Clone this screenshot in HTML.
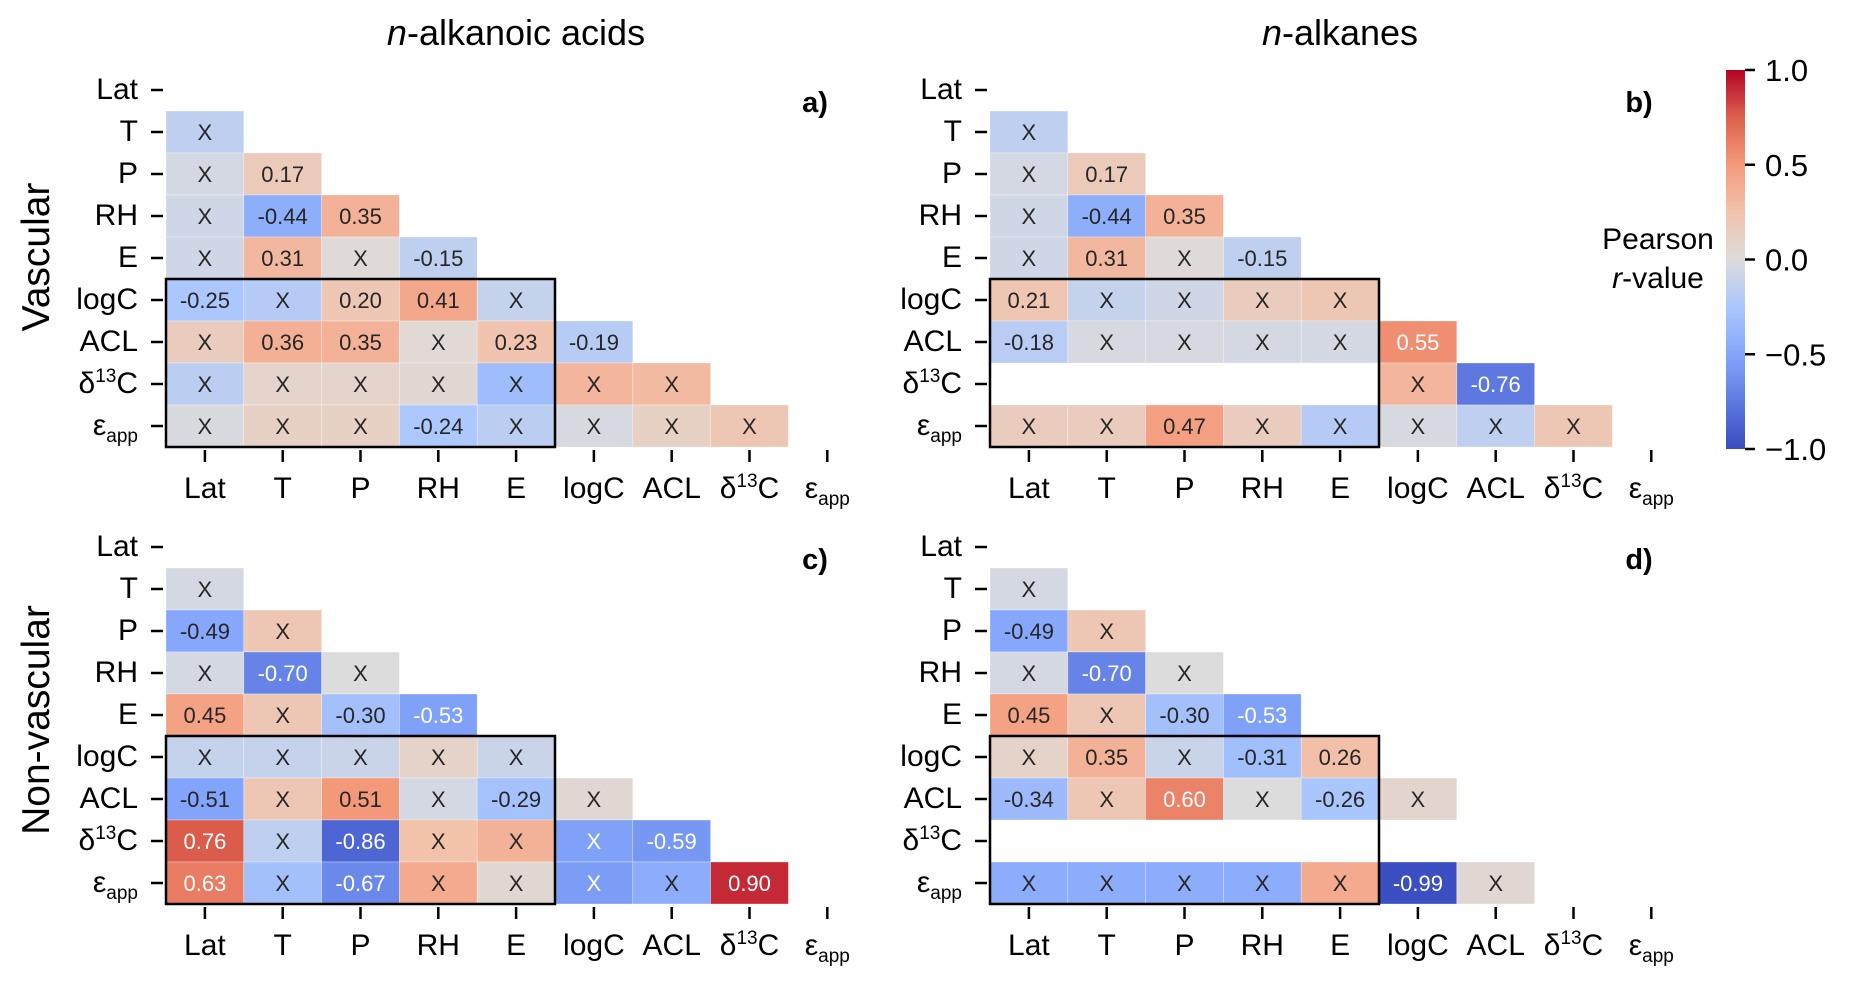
<!DOCTYPE html>
<html><head><meta charset="utf-8"><style>
html,body{margin:0;padding:0;background:#fff;}
svg{display:block;font-family:"Liberation Sans",sans-serif;}
</style></head><body>
<svg id="chart" width="1851" height="984" viewBox="0 0 1851 984" xmlns="http://www.w3.org/2000/svg">
<defs>
<linearGradient id="cbgrad" x1="0" y1="1" x2="0" y2="0">
<stop offset="0" stop-color="rgb(58,76,193)"/><stop offset="0.125" stop-color="rgb(94,123,226)"/>
<stop offset="0.25" stop-color="rgb(132,166,251)"/><stop offset="0.375" stop-color="rgb(171,199,253)"/>
<stop offset="0.5" stop-color="rgb(221,220,220)"/><stop offset="0.625" stop-color="rgb(242,194,170)"/>
<stop offset="0.75" stop-color="rgb(244,154,123)"/><stop offset="0.875" stop-color="rgb(222,96,77)"/>
<stop offset="1" stop-color="rgb(180,4,38)"/>
</linearGradient>
</defs>
<g id="root"></g>
</svg>
<script>
const variables = ["Lat","T","P","RH","E","logC","ACL","d13C","eapp"];
const cbTicks = [1.0, 0.5, 0.0, -0.5, -1.0];
const cbTickLabels = ["1.0","0.5","0.0","\u22120.5","\u22121.0"];
// rows T..eapp ; lower triangle values (null = blank)
const rA = [[-0.15],[-0.05,0.17],[-0.07,-0.44,0.35],[-0.07,0.31,0.02,-0.15],[-0.25,-0.2,0.20,0.41,-0.12],[0.15,0.36,0.35,0.03,0.23,-0.19],[-0.17,0.08,0.08,0.05,-0.33,0.33,0.3],[-0.02,0.12,0.12,-0.24,-0.17,-0.03,0.12,0.2]];
const sA = [[0],[0,1],[0,1,1],[0,1,0,1],[1,0,1,1,0],[0,1,1,0,1,1],[0,0,0,0,0,0,0],[0,0,0,1,0,0,0,0]];
const rB = [[-0.15],[-0.05,0.17],[-0.07,-0.44,0.35],[-0.07,0.31,0.02,-0.15],[0.21,-0.12,-0.07,0.15,0.2],[-0.18,-0.03,-0.03,-0.05,-0.05,0.55],[null,null,null,null,null,0.33,-0.76],[0.15,0.15,0.47,0.15,-0.2,-0.03,-0.15,0.2]];
const sB = [[0],[0,1],[0,1,1],[0,1,0,1],[1,0,0,0,0],[1,0,0,0,0,1],[0,0,0,0,0,0,1],[0,0,1,0,0,0,0,0]];
const rC = [[-0.05],[-0.49,0.2],[-0.05,-0.70,0.0],[0.45,0.2,-0.30,-0.53],[-0.12,-0.12,-0.1,0.1,-0.1],[-0.51,0.2,0.51,-0.05,-0.29,0.05],[0.76,-0.15,-0.86,0.25,0.35,-0.53,-0.59],[0.63,-0.3,-0.67,0.4,0.05,-0.55,-0.45,0.90]];
const sC = [[0],[1,0],[0,1,0],[1,0,1,1],[0,0,0,0,0],[1,0,1,0,1,0],[1,0,1,0,0,0,1],[1,0,1,0,0,0,0,1]];
const rD = [[-0.05],[-0.49,0.2],[-0.05,-0.70,0.0],[0.45,0.2,-0.30,-0.53],[0.1,0.35,-0.1,-0.31,0.26],[-0.34,0.2,0.60,0.0,-0.26,0.07],[],[-0.45,-0.45,-0.45,-0.45,0.4,-0.99,0.05]];
const sD = [[0],[1,0],[0,1,0],[1,0,1,1],[0,1,0,1,1],[1,0,1,0,1,0],[],[0,0,0,0,0,1,0]];

const NS="http://www.w3.org/2000/svg";
const root=document.getElementById('root');
function mk(tag,attrs,parent){const e=document.createElementNS(NS,tag);for(const k in attrs)e.setAttribute(k,attrs[k]);(parent||root).appendChild(e);return e;}
const stops=[[58,76,193],[94,123,226],[132,166,251],[171,199,253],[221,220,220],[242,194,170],[244,154,123],[222,96,77],[180,4,38]];
function cmap(v){let t=(v+1)/2*8;t=Math.max(0,Math.min(8,t));const i=Math.min(7,Math.floor(t)),f=t-i;const a=stops[i],b=stops[i+1];return `rgb(${a.map((c,j)=>Math.round(c+(b[j]-c)*f)).join(',')})`;}
function fmt(v){return v.toFixed(2);}
function labelText(el,name){
  if(name==="d13C"){el.appendChild(document.createTextNode("\u03b4"));const s=mk('tspan',{'font-size':'19','dy':'-11'},el);s.textContent="13";const c=mk('tspan',{'dy':'11'},el);c.textContent="C";}
  else if(name==="eapp"){el.appendChild(document.createTextNode("\u03b5"));const s=mk('tspan',{'font-size':'19','dy':'7'},el);s.textContent="app";}
  else el.textContent=name;
}
const CW=77.8, CH=42;
function panel(id,x0,y0,vals,sig,letter){
  const g=mk('g',{});
  
  
  const xs=i=>x0+i*CW, ys=j=>y0+j*CH;
  vals.forEach((row,ri)=>{row.forEach((v,ci)=>{
    if(v===null||v===undefined)return;
    const r=mk('rect',{x:xs(ci),y:ys(ri+1),width:CW,height:CH,fill:cmap(v),stroke:'#fff','stroke-width':'0.6','stroke-opacity':'0.5'},g);
    
    
    const t=mk('text',{x:xs(ci)+CW/2,y:ys(ri+1)+CH/2+8,'text-anchor':'middle','font-size':'22',fill:Math.abs(v)>=0.52?'#fff':'#262626'},g);
    
    
    t.textContent=sig[ri][ci]?fmt(v):"X";
  });});
  const box=mk('rect',{x:xs(0),y:ys(5),width:5*CW,height:4*CH,fill:'none',stroke:'#000','stroke-width':'2.5'},g);
  
  
  variables.forEach((v,i)=>{
    mk('line',{x1:x0-15,x2:x0-3,y1:ys(i)+CH/2,y2:ys(i)+CH/2,stroke:'#000','stroke-width':'2.5'},g);
    const t=mk('text',{x:x0-28,y:ys(i)+CH/2+9,'text-anchor':'end','font-size':'30',fill:'#000'},g);
    
    
    labelText(t,v);
    mk('line',{x1:xs(i)+CW/2,x2:xs(i)+CW/2,y1:ys(9)+3,y2:ys(9)+15,stroke:'#000','stroke-width':'2.5'},g);
    const u=mk('text',{x:xs(i)+CW/2,y:ys(9)+51,'text-anchor':'middle','font-size':'30',fill:'#000'},g);
    
    
    labelText(u,v);
  });
  const L=mk('text',{x:x0+649,y:y0+43,'text-anchor':'middle','font-size':'29','font-weight':'bold'},g);
  
  
  L.textContent=letter;
}
panel('a',166,69,rA,sA,'a)');
panel('b',990,69,rB,sB,'b)');
panel('c',166,526,rC,sC,'c)');
panel('d',990,526,rD,sD,'d)');
function title(x,y,it,rest,name,rot,fs){
  const t=mk('text',{x:x,y:y,'text-anchor':'middle','font-size':fs});
  if(rot)t.setAttribute('transform',`rotate(-90 ${x} ${y})`);
  
  
  if(it){const s=mk('tspan',{'font-style':'italic'},t);s.textContent=it;}
  t.appendChild(document.createTextNode(rest));
}
title(516,45,'n','-alkanoic acids','column-title-acids',false,'36');
title(1340,45,'n','-alkanes','column-title-alkanes',false,'36');
title(49,257,'','Vascular','row-title-vascular',true,'39');
title(49,720,'','Non-vascular','row-title-nonvascular',true,'39');
const cbX=1726,cbW=19,cbTop=70,cbBot=449;
const cy=v=>cbBot-(v+1)/2*(cbBot-cbTop);
const cb=mk('rect',{x:cbX,y:cbTop,width:cbW,height:cbBot-cbTop,fill:'url(#cbgrad)'});


cbTicks.forEach((v,i)=>{
  mk('line',{x1:cbX+cbW,x2:cbX+cbW+10,y1:cy(v),y2:cy(v),stroke:'#000','stroke-width':'2.5'});
  const t=mk('text',{x:cbX+cbW+20,y:cy(v)+11,'font-size':'31'});
  
  
  t.textContent=cbTickLabels[i];
});
const p1=mk('text',{x:1658,y:249,'text-anchor':'middle','font-size':'30'});


p1.textContent='Pearson';
const p2=mk('text',{x:1658,y:288,'text-anchor':'middle','font-size':'30'});


const pi=mk('tspan',{'font-style':'italic'},p2);pi.textContent='r';
p2.appendChild(document.createTextNode('-value'));
</script>
</body></html>
